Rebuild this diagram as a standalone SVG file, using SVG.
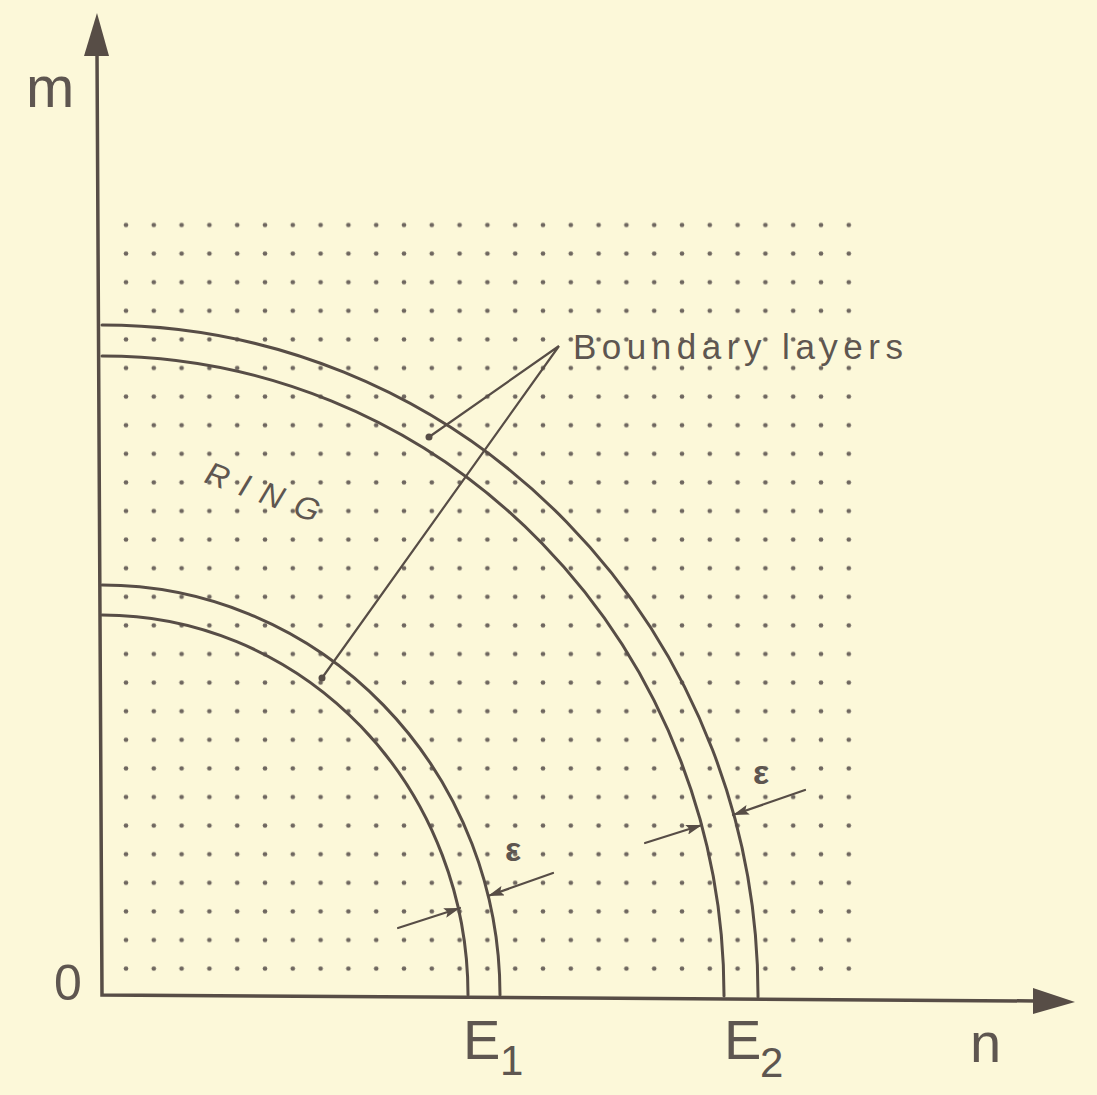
<svg xmlns="http://www.w3.org/2000/svg" width="1097" height="1095" viewBox="0 0 1097 1095">
<style>
.ln{fill:none;stroke:#574d46;stroke-linecap:round}
.arc{stroke-width:3}
.ax{stroke-width:3.5}
.ld{stroke-width:2.2}
.t{font-family:"Liberation Sans",Arial,sans-serif;fill:#5e5650}
</style>
<defs>
<pattern id="dots" patternUnits="userSpaceOnUse" x="112.1" y="210.7" width="27.8" height="28.6">
<circle cx="13.9" cy="14.3" r="2.3" fill="#6e665f"/>
</pattern>
<marker id="ah" markerUnits="userSpaceOnUse" viewBox="0 0 16 10" refX="16" refY="5" markerWidth="16" markerHeight="10" orient="auto">
<path d="M0,0 L16,5 L0,10 L3,5 Z" fill="#574d46"/>
</marker>
</defs>
<rect width="1097" height="1095" fill="#fcf8d9"/>
<g id="grid"><rect x="112.1" y="210.7" width="750.6" height="772.2" fill="url(#dots)"/></g>
<g id="axes">
<path class="ln ax" d="M97,52 L102,995 L1036,1001"/>
<path d="M97,13 L109,56 L84,56 Z" fill="#574d46"/>
<path d="M1075,1002 L1033,1014 L1033,988 Z" fill="#574d46"/>
</g>
<g id="ring-E1">
<path class="ln arc" d="M468,995 A366,380 0 0 0 102,615"/>
<path class="ln arc" d="M500,995 A398,410 0 0 0 102,585"/>
</g>
<g id="ring-E2">
<path class="ln arc" d="M724,996 A622,639 0 0 0 102,356"/>
<path class="ln arc" d="M758,997 A656,670 0 0 0 102,325"/>
</g>
<g id="connectors">
<path class="ln ld" d="M429,437 L559,346 L322,678"/>
<circle cx="429" cy="437" r="3.5" fill="#574d46"/>
<circle cx="322" cy="678" r="3.5" fill="#574d46"/>
<line class="ln ld" x1="398" y1="928" x2="460" y2="908" marker-end="url(#ah)"/>
<line class="ln ld" x1="553" y1="873" x2="488" y2="896" marker-end="url(#ah)"/>
<line class="ln ld" x1="645" y1="843" x2="702" y2="825" marker-end="url(#ah)"/>
<line class="ln ld" x1="805" y1="790" x2="733" y2="815" marker-end="url(#ah)"/>
</g>
<g id="labels">
<text class="t" x="26" y="107" font-size="58">m</text>
<text class="t" x="54" y="1000" font-size="50">0</text>
<text class="t" x="970" y="1062" font-size="56">n</text>
<text class="t" x="463" y="1059" font-size="56">E</text>
<text class="t" x="500" y="1075" font-size="42">1</text>
<text class="t" x="724" y="1059" font-size="56">E</text>
<text class="t" x="760" y="1077" font-size="42">2</text>
<text class="t" x="505" y="861" font-size="34" font-weight="bold">ε</text>
<text class="t" x="753" y="784" font-size="34" font-weight="bold">ε</text>
<text class="t" x="573" y="359" font-size="35" textLength="330" lengthAdjust="spacing">Boundary layers</text>
<text class="t" x="203" y="482" font-size="32" font-style="italic" letter-spacing="13" transform="rotate(20 203 482)">RING</text>
</g>
</svg>
